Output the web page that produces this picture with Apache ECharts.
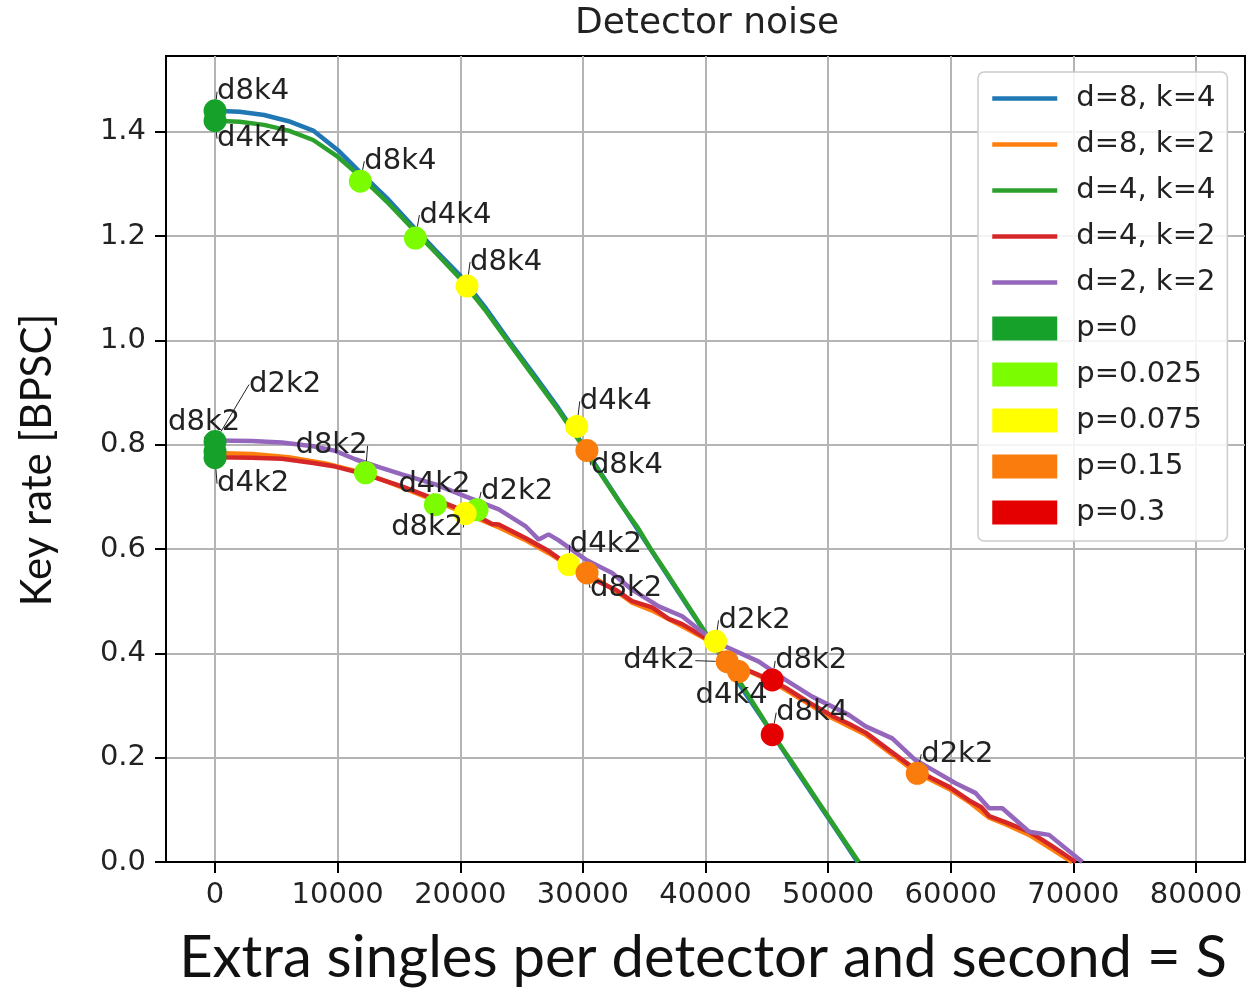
<!DOCTYPE html>
<html>
<head>
<meta charset="utf-8">
<script src="https://cdn.jsdelivr.net/npm/echarts@6/dist/echarts.min.js"></script>
<style>html,body{margin:0;padding:0;background:#fff}#c{width:1250px;height:990px}</style>
</head>
<body>
<div id="c"></div>
<script>
// ---------- data ----------
const chartTitle = 'Detector noise';
const xAxisTitle = 'Extra singles per detector and second = S';
const yAxisTitle = 'Key rate [BPSC]';
const xTicks = [0, 10000, 20000, 30000, 40000, 50000, 60000, 70000, 80000];
const yTicks = [0, 0.2, 0.4, 0.6, 0.8, 1.0, 1.2, 1.4];

const curveNames = ['d=8, k=4', 'd=8, k=2', 'd=4, k=4', 'd=4, k=2', 'd=2, k=2'];
const curveTags  = ['d8k4', 'd8k2', 'd4k4', 'd4k2', 'd2k2'];
const pNames = ['p=0', 'p=0.025', 'p=0.075', 'p=0.15', 'p=0.3'];

const line_d8k4 = [[0,1.440],[2000,1.438],[4000,1.432],[6000,1.420],[8000,1.402],[10000,1.365],[12000,1.318],[14000,1.273],[16000,1.222],[18000,1.172],[20000,1.124],[22000,1.064],[24000,0.998],[26000,0.935],[28000,0.870],[30000,0.800],[31000,0.762],[33000,0.690],[35000,0.618],[37000,0.546],[39000,0.474],[41000,0.404],[43000,0.332],[45000,0.262],[47000,0.190],[49000,0.120],[51000,0.050],[52400,0]];
const line_d8k2 = [[0,0.784],[3000,0.782],[6000,0.776],[9000,0.764],[12260,0.745],[15240,0.718],[17970,0.692],[20420,0.668],[23000,0.643],[25310,0.617],[27210,0.592],[28580,0.572],[30340,0.553],[32660,0.520],[34010,0.497],[35650,0.482],[38100,0.452],[40270,0.424],[41630,0.392],[43500,0.366],[45440,0.345],[46530,0.330],[48500,0.302],[50330,0.276],[53060,0.244],[55000,0.210],[57140,0.172],[59860,0.140],[61500,0.115],[63130,0.085],[64500,0.072],[66390,0.052],[68300,0.024],[69900,0]];
const line_d4k4 = [[0,1.421],[2000,1.419],[4000,1.413],[6000,1.402],[8000,1.384],[10000,1.352],[12000,1.311],[14000,1.266],[16000,1.217],[18000,1.168],[20000,1.118],[22000,1.059],[24000,0.994],[26000,0.930],[28000,0.866],[30000,0.797],[31000,0.760],[33000,0.689],[34500,0.640],[35500,0.601],[37000,0.548],[39000,0.476],[40300,0.428],[41500,0.393],[43000,0.338],[44500,0.282],[45500,0.244],[47000,0.193],[49000,0.122],[51000,0.052],[52500,0]];
const line_d4k2 = [[0,0.776],[3000,0.775],[5460,0.773],[8000,0.765],[9800,0.758],[12260,0.743],[15240,0.720],[17970,0.695],[20420,0.672],[21230,0.665],[22590,0.648],[23140,0.647],[25310,0.621],[27210,0.596],[28580,0.573],[30210,0.548],[31000,0.540],[32660,0.522],[34010,0.500],[35650,0.488],[37000,0.466],[38100,0.456],[40270,0.426],[41630,0.393],[43500,0.367],[45000,0.352],[46530,0.334],[48500,0.305],[50330,0.280],[51690,0.265],[53060,0.248],[55000,0.214],[57140,0.177],[58500,0.160],[59860,0.144],[61500,0.118],[62500,0.105],[63130,0.088],[64500,0.076],[66390,0.058],[67500,0.042],[68300,0.030],[70200,0]];
const line_d2k2 = [[0,0.808],[3000,0.807],[5460,0.804],[8000,0.797],[9800,0.788],[11430,0.772],[13500,0.756],[15240,0.743],[17970,0.724],[20420,0.701],[23140,0.676],[25310,0.644],[26400,0.618],[27200,0.628],[28000,0.617],[30210,0.580],[32390,0.554],[34010,0.522],[36190,0.490],[38100,0.471],[39490,0.445],[40820,0.423],[41630,0.413],[44350,0.384],[46530,0.349],[48700,0.317],[51690,0.282],[53060,0.260],[55230,0.237],[57140,0.195],[58490,0.177],[60400,0.151],[62040,0.132],[63130,0.103],[64210,0.103],[66390,0.058],[68020,0.052],[70740,0]];

// marker points, index = p level
const markers_d8k4 = [[0,1.440],[11850,1.305],[20550,1.104],[30330,0.789],[45440,0.244]];
const markers_d8k2 = [[0,0.787],[12270,0.746],[20400,0.668],[30340,0.554],[45440,0.349]];
const markers_d4k4 = [[0,1.421],[16340,1.196],[29500,0.835],[42700,0.365]];
const markers_d4k2 = [[0,0.775],[17970,0.685],[28850,0.570],[41770,0.384]];
const markers_d2k2 = [[0,0.806],[21370,0.675],[40820,0.423],[57270,0.170]];

// ---------- styling ----------
const lineColors = ['#1f77b4', '#ff7f0e', '#2ca02c', '#d62728', '#9467bd'];
const pColors = ['#16a22a', '#7cfc00', '#ffff00', '#f97c0c', '#e40000'];
// label offsets in px (left edge of text, vertical centre) relative to the marker
const labelOffsets = {
  d8k4: [[2,-19],[4,-20],[3,-24],[4,15],[4,-22]],
  d8k2: [[-47,-29],[-70,-27],[-74,14],[3,15],[3,-19]],
  d4k4: [[2,18],[4,-23],[3,-25],[-43,24]],
  d4k2: [[2,26],[-37,-20],[1,-20],[-104,-1]],
  d2k2: [[34,-57],[4,-18],[3,-21],[4,-19]]
};

const lines = [line_d8k4, line_d8k2, line_d4k4, line_d4k2, line_d2k2];
const markerSets = [markers_d8k4, markers_d8k2, markers_d4k4, markers_d4k2, markers_d2k2];

const tickFont = {fontFamily: 'DejaVu Sans', fontSize: 29, color: '#222'};

const series = [];
lines.forEach((d, i) => {
  series.push({
    name: curveNames[i], type: 'line', data: d, symbol: 'none', showSymbol: false,
    lineStyle: {color: lineColors[i], width: 4.5}, itemStyle: {color: lineColors[i]},
    z: 2, silent: true
  });
});
const scatterMeta = [];
pNames.forEach((pn, p) => {
  const data = [];
  const meta = [];
  markerSets.forEach((ms, ci) => {
    if (ms[p]) { data.push({value: ms[p], name: curveTags[ci]}); meta.push(labelOffsets[curveTags[ci]][p]); }
  });
  scatterMeta.push(meta);
  series.push({
    name: pn, type: 'scatter', data: data, symbol: 'circle', symbolSize: 23,
    itemStyle: {color: pColors[p], opacity: 1}, z: 3,
    label: {show: true, position: 'inside', align: 'left', verticalAlign: 'middle',
      formatter: '{b}', fontFamily: 'DejaVu Sans', fontSize: 29, color: '#222'},
    labelLine: {show: true, lineStyle: {color: '#222', width: 1}},
    labelLayout: function (params) {
      const o = scatterMeta[p][params.dataIndex];
      return {dx: o[0], dy: o[1]};
    }
  });
});

const chart = echarts.init(document.getElementById('c'), null, {renderer: 'canvas'});
chart.setOption({
  animation: false,
  backgroundColor: '#fff',
  grid: {left: 166, right: 5, top: 56, bottom: 128, show: true, borderColor: '#000', borderWidth: 2, backgroundColor: 'transparent'},
  xAxis: {
    type: 'value', min: -4000, max: 84000,
    axisLine: {show: true, onZero: false, lineStyle: {color: '#000', width: 2}},
    axisTick: {show: true, length: 11, lineStyle: {color: '#000', width: 2}, customValues: xTicks},
    axisLabel: Object.assign({margin: 19, formatter: v => String(v), customValues: xTicks}, tickFont),
    splitLine: {show: true, lineStyle: {color: '#b4b4b4', width: 2}}
  },
  yAxis: {
    type: 'value', min: 0, max: 1.545,
    axisLine: {show: true, onZero: false, lineStyle: {color: '#000', width: 2}},
    axisTick: {show: true, length: 11, lineStyle: {color: '#000', width: 2}, customValues: yTicks},
    axisLabel: Object.assign({margin: 20, formatter: v => v.toFixed(1), customValues: yTicks}, tickFont),
    splitLine: {show: true, lineStyle: {color: '#b4b4b4', width: 2}}
  },
  legend: {
    orient: 'vertical', left: 978, top: 72, padding: [12, 12, 14, 12],
    itemWidth: 65, itemHeight: 24, itemGap: 17,
    backgroundColor: 'rgba(255,255,255,0.85)', borderColor: '#cccccc', borderWidth: 1.5, borderRadius: 6,
    textStyle: {fontFamily: 'DejaVu Sans', fontSize: 29, color: '#222', lineHeight: 29, padding: [0, 0, 0, 14]},
    data: curveNames.map(n => ({name: n, itemStyle: {color: 'transparent', borderColor: 'transparent', borderWidth: 0}, lineStyle: {width: 4.5}}))
      .concat(pNames.map(n => ({name: n, icon: 'rect'}))),
    selectedMode: false
  },
  graphic: [
    {type: 'text', x: 707, y: 24, style: {text: chartTitle, fontFamily: 'DejaVu Sans', fontSize: 36, fill: '#222', align: 'center', verticalAlign: 'middle'}},
    {type: 'text', x: 37, y: 460, rotation: Math.PI / 2, style: {text: yAxisTitle, fontFamily: 'Lato', fontSize: 42, fill: '#111', align: 'center', verticalAlign: 'middle'}},
    {type: 'text', x: 703, y: 958, style: {text: xAxisTitle, fontFamily: 'Lato', fontSize: 58, fill: '#111', align: 'center', verticalAlign: 'middle'}}
  ],
  series: series
});
</script>
</body>
</html>
